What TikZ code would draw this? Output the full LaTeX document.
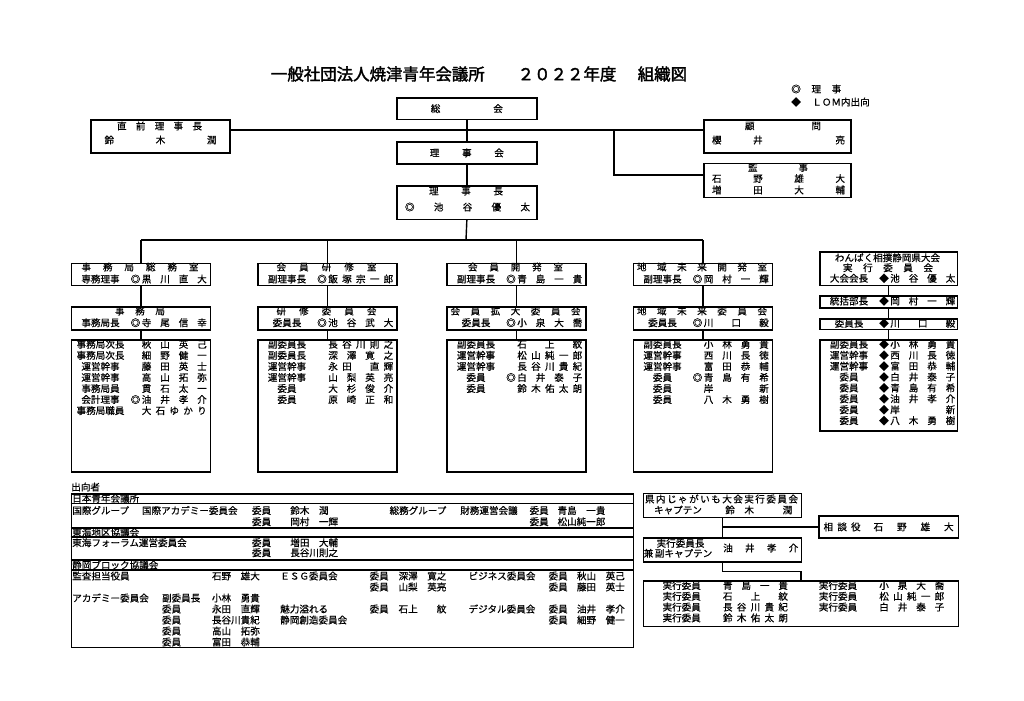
\documentclass[tikz,border=0pt]{standalone}
\usepackage{fontspec}
\setmainfont{Noto Sans CJK JP}[AutoFakeBold=2]
\newfontfamily\jpt{Noto Sans CJK JP}[FakeBold=0.5]
\newlength\pxu
\setlength\pxu{0.025cm}
% spread the characters of a name over a fixed width
\def\sprA#1{#1\sprB}
\def\sprB#1{\ifx\relax#1\else\hfill#1\expandafter\sprB\fi}
\newcommand\spr[2]{\makebox[#1\pxu]{\expandafter\sprA#2\relax}}
% one member row: left edge, y, post, mark, name
\newcommand\mem[5]{%
  \node[txt] at (#1+30,#2) {#3};
  \edef\memmark{#4}%
  \ifx\memmark\empty\else\node[txt] at (#1+65,#2) {#4};\fi
  \node[txt,anchor=west] at (#1+71,#2) {\spr{65}{#5}};}

\begin{document}
\begin{tikzpicture}[x=0.025cm, y=-0.025cm]
    \tikzset{box/.style={
      draw,
      line width=1.2pt,
      anchor=north west,
      inner sep=0pt,
      font=\jpt\fontsize{6.8}{7.5}\selectfont
    },
    link/.style={draw, line width=1pt},
    txt/.style={inner sep=0pt, font=\jpt\fontsize{6.8}{7.5}\selectfont}
    };

    \path[use as bounding box, fill=white] (0,0) rectangle (1024,700);

    \node[txt, font=\fontsize{11.7}{13}\selectfont\bfseries] (title) at (479,74)
      {一般社団法人焼津青年会議所\hspace{2em}２０２２年度\hspace{1.3em}組織図};
    \node[txt, anchor=west] (lg1) at (791,89) {\spr{50}{◎理事}};
    \node[txt, anchor=west] (lg2) at (791,102) {◆\hspace{1.2em}ＬＯＭ内出向};

    % top
    \node[box, minimum width=140\pxu, minimum height=21.5\pxu] (sokai) at (396,97) {\spr{72}{総会}};
    \node[box, minimum width=140\pxu, minimum height=22\pxu] (rijikai) at (396,141) {\spr{74}{理事会}};
    \node[box, minimum width=140\pxu, minimum height=33.5\pxu] (rijicho) at (396,185) {};
    \node[txt] at (466,191) {\spr{74}{理事長}};
    \node[txt] at (467.5,207) {\spr{125}{◎池谷優太}};

    \node[box, minimum width=139\pxu, minimum height=33\pxu] (zenri) at (90,119) {};
    \node[txt] at (159.5,126) {\spr{85}{直前理事長}};
    \node[txt] at (160.5,140) {\spr{112}{鈴木潤}};

    \node[box, minimum width=147\pxu, minimum height=33\pxu] (komon) at (703,119) {};
    \node[txt] at (783,126) {\spr{76}{顧問}};
    \node[txt] at (778.5,140) {\spr{133}{櫻井　亮}};

    \node[box, minimum width=147\pxu, minimum height=34\pxu] (kanji) at (703,162.5) {};
    \node[txt] at (778,167.5) {\spr{60}{監事}};
    \node[txt] at (778.5,178.5) {\spr{133}{石野雄大}};
    \node[txt] at (778.5,190) {\spr{133}{増田大輔}};

    \coordinate (hub) at (466,130);
    \coordinate (kj) at (614,130);
    \coordinate (bus) at (466,240);
    \path[link] (sokai.south) -- (rijikai.north);
    \path[link] (rijikai.south) -- (rijicho.north);
    \path[link] (zenri.east |- hub) -- (komon.west |- hub);
    \path[link] (kj) |- (kanji.176);
    \path[link] (rijicho.south) -- (bus);

    % column 1
    \node[box, minimum width=139\pxu, minimum height=22\pxu] (c1top) at (70.5,262.5) {};
    \node[txt] at (140,267) {\spr{117}{事務局総務室}};
    \mem{70.5}{279}{専務理事}{◎}{黒川直大}
    \node[box, minimum width=139\pxu, minimum height=23\pxu] (c1mid) at (70.5,306) {};
    \node[txt] at (140,311) {\spr{50}{事務局}};
    \mem{70.5}{322.7}{事務局長}{◎}{寺尾信幸}
    \node[box, minimum width=139\pxu, minimum height=132\pxu] (c1mem) at (70.5,339) {};
    \foreach \rl/\mk/\nm [count=\rw from 0] in {事務局次長//秋山英己, 事務局次長//細野健一,
      運営幹事//藤田英士, 運営幹事//高山拓弥, 事務局員//貫石太一, 会計理事/◎/油井孝介,
      事務局職員//大石ゆかり}
      {\mem{70.5}{344.3+11.05*\rw}{\rl}{\mk}{\nm}}

    % column 2
    \node[box, minimum width=139\pxu, minimum height=22\pxu] (c2top) at (257,262.5) {};
    \node[txt] at (326.5,267) {\spr{100}{会員研修室}};
    \mem{257}{279}{副理事長}{◎}{飯塚宗一郎}
    \node[box, minimum width=139\pxu, minimum height=23\pxu] (c2mid) at (257,306) {};
    \node[txt] at (326.5,311) {\spr{100}{研修委員会}};
    \mem{257}{322.7}{委員長}{◎}{池谷武大}
    \node[box, minimum width=139\pxu, minimum height=132\pxu] (c2mem) at (257,339) {};
    \foreach \rl/\mk/\nm [count=\rw from 0] in {副委員長//長谷川則之, 副委員長//深澤寛之,
      運営幹事//永田　直輝, 運営幹事//山梨英亮, 委員//大杉俊介, 委員//原崎正和}
      {\mem{257}{344.3+11.05*\rw}{\rl}{\mk}{\nm}}

    % column 3
    \node[box, minimum width=139\pxu, minimum height=22\pxu] (c3top) at (446,262.5) {};
    \node[txt] at (515.5,267) {\spr{95}{会員開発室}};
    \mem{446}{279}{副理事長}{◎}{青島一貴}
    \node[box, minimum width=139\pxu, minimum height=23\pxu] (c3mid) at (446,306) {};
    \node[txt] at (515.5,311) {\spr{130}{会員拡大委員会}};
    \mem{446}{322.7}{委員長}{◎}{小泉大喬}
    \node[box, minimum width=139\pxu, minimum height=132\pxu] (c3mem) at (446,339) {};
    \foreach \rl/\mk/\nm [count=\rw from 0] in {副委員長//石上紋, 運営幹事//松山純一郎,
      運営幹事//長谷川貴紀, 委員/◎/白井泰子, 委員//鈴木佑太朗}
      {\mem{446}{344.3+11.05*\rw}{\rl}{\mk}{\nm}}

    % column 4
    \node[box, minimum width=139\pxu, minimum height=22\pxu] (c4top) at (632.5,262.5) {};
    \node[txt] at (702,267) {\spr{130}{地域未来開発室}};
    \mem{632.5}{279}{副理事長}{◎}{岡村一輝}
    \node[box, minimum width=139\pxu, minimum height=23\pxu] (c4mid) at (632.5,306) {};
    \node[txt] at (702,311) {\spr{130}{地域未来委員会}};
    \mem{632.5}{322.7}{委員長}{◎}{川口毅}
    \node[box, minimum width=139\pxu, minimum height=132\pxu] (c4mem) at (632.5,339) {};
    \foreach \rl/\mk/\nm [count=\rw from 0] in {副委員長//小林勇貴, 運営幹事//西川長徳,
      運営幹事//富田恭輔, 委員/◎/青島有希, 委員//岸　　新, 委員//八木勇樹}
      {\mem{632.5}{344.3+11.05*\rw}{\rl}{\mk}{\nm}}

    \path[link] (c1top.north |- bus) -- (c4top.north |- bus);
    \foreach \cl in {c1,c2,c3,c4} {
      \path[link] (\cl top.north |- bus) -- (\cl top.north);
      \path[link] (\cl top.south) -- (\cl mid.north);
      \path[link] (\cl mid.south) -- (\cl mem.north);
    }

    % wanpaku
    \node[box, minimum width=137.5\pxu, minimum height=33.5\pxu] (wanpaku) at (819,251) {};
    \node[txt] at (887.5,257.7) {わんぱく相撲静岡県大会};
    \node[txt] at (888,267.7) {\spr{90}{実行委員会}};
    \mem{819}{278.3}{大会会長}{◆}{池谷優太}
    \node[box, minimum width=137.5\pxu, minimum height=12\pxu] (tokatsu) at (819,295) {};
    \mem{819}{301}{統括部長}{◆}{岡村一輝}
    \node[box, minimum width=137.5\pxu, minimum height=10.5\pxu] (wiincho) at (819,318) {};
    \mem{819}{323.3}{委員長}{◆}{川口毅}
    \node[box, minimum width=137.5\pxu, minimum height=91\pxu] (wmem) at (819,339) {};
    \foreach \rl/\mk/\nm [count=\rw from 0] in {副委員長/◆/小林勇貴, 運営幹事/◆/西川長徳,
      運営幹事/◆/富田恭輔, 委員/◆/白井泰子, 委員/◆/青島有希, 委員/◆/油井孝介,
      委員/◆/岸　　新, 委員/◆/八木勇樹}
      {\mem{819}{344.3+10.9*\rw}{\rl}{\mk}{\nm}}
    \path[link] (wanpaku.south) -- (tokatsu.north);
    \path[link] (tokatsu.south) -- (wiincho.north);
    \path[link] (wiincho.south) -- (wmem.north);

    % shukko
    \node[txt, anchor=west] (shukko) at (71,487) {出向者};
    \node[box, minimum width=562\pxu, minimum height=153.5\pxu] (dk) at (70.5,493) {};
    \foreach \ry in {503.5,528,537,560,570}
      \draw[line width=1.2pt] (dk.north west |- 0,\ry) -- (dk.north east |- 0,\ry);
    \foreach \tx/\ty/\tt in {72/498.3/日本青年会議所, 72/532.5/東海地区協議会,
      72/565/静岡ブロック協議会,
      72/510.5/国際グループ, 141.7/510.5/国際アカデミー委員会, 251.7/510.5/委員,
      290/510.5/鈴木　潤, 389.3/510.5/総務グループ, 460/510.5/財務運営会議,
      529.3/510.5/委員, 557.3/510.5/青島　一貴,
      251.7/521.7/委員, 290/521.7/岡村　一輝, 529.3/521.7/委員, 557.3/521.7/松山純一郎,
      72/542.7/東海フォーラム運営委員会, 251.7/542.7/委員, 290/542.7/増田　大輔,
      251.7/552.7/委員, 290/552.7/長谷川則之,
      72/576/監査担当役員, 211.7/576/石野　雄大, 280/576/ＥＳＧ委員会, 369.3/576/委員,
      398.3/576/深澤　寛之, 468.3/576/ビジネス委員会, 548.3/576/委員, 576.7/576/秋山　英己,
      369.3/587/委員, 398.3/587/山梨　英亮, 548.3/587/委員, 576.7/587/藤田　英士,
      72/598/アカデミー委員会, 161.7/598/副委員長, 211.7/598/小林　勇貴,
      161.7/609/委員, 211.7/609/永田　直輝, 280/609/魅力溢れる, 369.3/609/委員,
      398.3/609/石上　　紋, 468.3/609/デジタル委員会, 548.3/609/委員, 576.7/609/油井　孝介,
      161.7/620/委員, 211.7/620/長谷川貴紀, 280/620/静岡創造委員会, 548.3/620/委員,
      576.7/620/細野　健一,
      161.7/631/委員, 211.7/631/高山　拓弥, 161.7/642/委員, 211.7/642/富田　恭輔}
      \node[txt, anchor=west] at (\tx,\ty) {\tt};

    % jagaimo
    \node[box, minimum width=158\pxu, minimum height=24\pxu] (ken) at (642.5,492.5) {};
    \node[txt] at (721.5,499) {\spr{153}{県内じゃがいも大会実行委員会}};
    \node[txt] at (678,510) {キャプテン};
    \node[txt, anchor=west] at (725,510) {\spr{67}{鈴木　潤}};
    \node[box, minimum width=139.5\pxu, minimum height=22\pxu] (sodan) at (818,515)
      {\spr{37}{相談役}\hspace{13\pxu}\spr{80}{石野雄大}};
    \node[box, minimum width=158\pxu, minimum height=24\pxu] (jikko) at (642.5,537) {};
    \node[txt] at (680.5,543.3) {実行委員長};
    \node[txt] at (678,553.3) {兼\,副キャプテン};
    \node[txt, anchor=west] at (723,548) {\spr{75}{油井孝介}};
    \node[box, minimum width=315\pxu, minimum height=45.5\pxu] (jmem) at (642.5,580) {};
    \foreach \nm [count=\rw from 0] in {青島一貴, 石上紋, 長谷川貴紀, 鈴木佑太朗}
      {\mem{651.7}{585.5+10.8*\rw}{実行委員}{}{\nm}}
    \foreach \nm [count=\rw from 0] in {小泉大喬, 松山純一郎, 白井泰子}
      {\mem{808}{585.5+10.8*\rw}{実行委員}{}{\nm}}

    \path[link] (ken.south) -- (jikko.north);
    \path[link] (ken.south |- sodan.west) -- (sodan.west);
    \path[link] (jikko.south) -- ++(0,9) -| (jmem.north);

  \end{tikzpicture}
\end{document}
